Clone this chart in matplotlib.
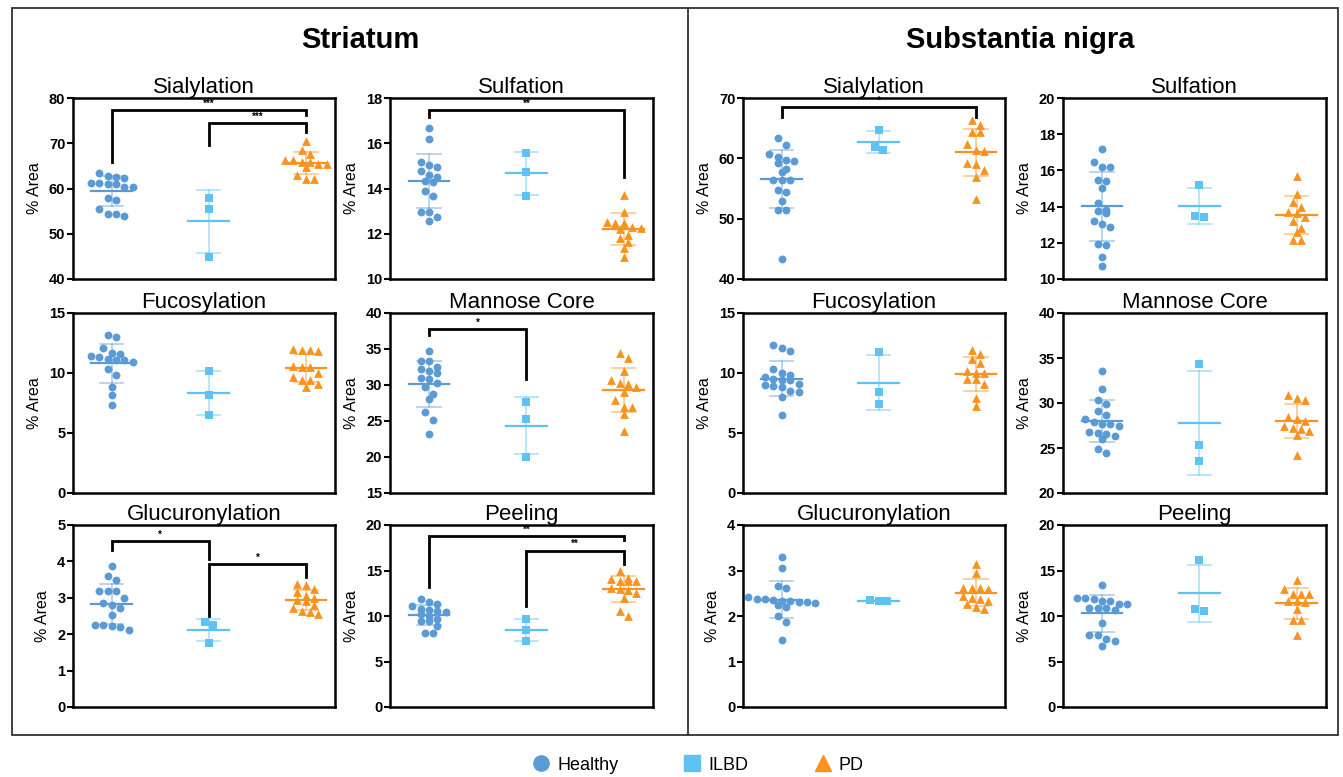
import numpy as np
import matplotlib
matplotlib.use('Agg')
import matplotlib.pyplot as plt
from matplotlib.lines import Line2D
from matplotlib.patches import Rectangle

plt.rcParams['font.family'] = ['Liberation Sans', 'DejaVu Sans']

groups = ['Healthy', 'ILBD', 'PD']
colors = ['#5B9BD5', '#5EC3F2', '#F7931E']
markers = ['o', 's', '^']

# ---- Striatum ----
str_sial_h = [62.7, 62.4, 62.6, 63.4, 60.3, 61.2, 60.4, 61.0, 61.1, 61.3, 57.4, 57.8, 55.4, 54.0, 54.3, 54.3]
str_sial_i = [58.0, 55.5, 44.8]
str_sial_p = [70.5, 68.6, 67.7, 66.4, 66.4, 65.8, 65.5, 65.9, 65.5, 64.8, 62.1, 63.0, 62.1]

str_sulf_h = [16.67, 16.18, 14.97, 15.03, 15.18, 14.50, 14.58, 14.78, 13.91, 14.27, 14.31, 13.68, 12.94, 12.94, 12.76, 12.57]
str_sulf_i = [15.59, 14.75, 13.69]
str_sulf_p = [13.72, 12.98, 12.46, 12.46, 12.54, 12.32, 12.24, 11.65, 11.95, 11.8, 11.39, 10.99, 12.2]

str_fuco_h = [13.2, 13.0, 12.1, 11.6, 11.4, 11.7, 11.1, 11.2, 11.1, 10.9, 11.3, 10.3, 9.8, 8.8, 8.2, 7.3]
str_fuco_i = [10.19, 8.19, 6.53]
str_fuco_p = [11.9, 12.0, 11.8, 11.9, 10.5, 10.5, 10.6, 10.0, 9.4, 8.8, 9.7, 9.1, 9.4]

str_mann_h = [34.7, 33.3, 33.3, 32.2, 32.5, 32.0, 31.7, 31.0, 30.8, 30.3, 29.7, 28.8, 28.1, 26.2, 25.2, 23.2]
str_mann_i = [27.7, 25.3, 20.0]
str_mann_p = [34.5, 33.7, 32.0, 30.7, 30.3, 29.7, 29.0, 27.9, 26.9, 26.9, 26.0, 23.6, 30.2]

str_gluc_h = [3.86, 3.49, 3.61, 3.18, 3.18, 3.18, 2.99, 2.85, 2.72, 2.79, 2.54, 2.21, 2.24, 2.24, 2.22, 2.12]
str_gluc_i = [2.33, 2.26, 1.76]
str_gluc_p = [3.38, 3.34, 3.24, 3.15, 3.05, 3.0, 2.95, 2.9, 2.8, 2.72, 2.62, 2.65, 2.55]

str_peel_h = [11.9, 11.5, 11.3, 11.1, 10.8, 10.7, 10.5, 10.4, 10.2, 10.0, 9.7, 9.4, 9.4, 8.9, 8.1, 8.1]
str_peel_i = [9.69, 8.48, 7.24]
str_peel_p = [14.9, 14.1, 13.9, 13.9, 13.8, 14.2, 13.1, 12.9, 12.5, 12.0, 10.0, 10.5, 13.0]

# ---- Substantia nigra ----
sn_sial_h = [63.3, 62.2, 59.6, 59.7, 60.2, 60.7, 59.2, 58.2, 57.7, 56.4, 56.4, 56.4, 54.5, 54.8, 52.9, 51.5, 51.5, 43.3]
sn_sial_i = [64.75, 61.4, 61.9]
sn_sial_p = [66.35, 65.5, 64.3, 64.3, 62.3, 61.2, 61.3, 59.06, 59.17, 58.07, 56.96, 53.26]

sn_sulf_h = [17.18, 16.45, 16.17, 16.2, 15.47, 15.43, 15.03, 14.2, 13.81, 13.63, 13.76, 13.22, 12.85, 13.04, 11.88, 11.93, 11.23, 10.74]
sn_sulf_i = [15.19, 13.41, 13.5]
sn_sulf_p = [15.71, 14.7, 14.24, 13.96, 13.68, 13.63, 13.41, 13.19, 12.8, 12.6, 12.15, 12.15]

sn_fuco_h = [12.3, 12.1, 11.8, 10.3, 9.8, 9.7, 10.0, 9.4, 9.4, 9.5, 9.1, 9.0, 8.9, 8.8, 8.4, 8.5, 8.0, 6.5]
sn_fuco_i = [11.78, 8.39, 7.43]
sn_fuco_p = [11.89, 11.56, 11.15, 10.87, 10.18, 9.96, 9.96, 9.5, 9.5, 9.08, 7.9, 7.24]

sn_mann_h = [33.6, 31.6, 29.9, 30.3, 29.1, 28.7, 27.7, 27.9, 28.2, 27.7, 27.5, 26.8, 26.3, 26.6, 26.7, 26.0, 24.9, 24.5]
sn_mann_i = [34.33, 25.37, 23.52]
sn_mann_p = [30.9, 30.6, 30.3, 28.4, 28.2, 27.1, 27.2, 27.4, 28.0, 26.9, 26.5, 24.2]

sn_gluc_h = [3.29, 3.06, 2.67, 2.62, 2.32, 2.37, 2.35, 2.3, 2.28, 2.33, 2.25, 2.41, 2.38, 2.3, 2.2, 1.99, 1.86, 1.47]
sn_gluc_i = [2.33, 2.36, 2.33]
sn_gluc_p = [3.15, 2.95, 2.62, 2.62, 2.62, 2.59, 2.33, 2.4, 2.38, 2.43, 2.26, 2.16, 2.19]

sn_peel_h = [13.4, 11.9, 12.0, 12.0, 11.6, 11.3, 11.3, 10.9, 10.9, 10.7, 10.9, 9.2, 7.9, 7.9, 7.5, 7.3, 6.7, 11.6]
sn_peel_i = [16.1, 10.57, 10.79]
sn_peel_p = [14.0, 12.41, 12.41, 12.97, 12.41, 11.6, 11.6, 11.53, 10.79, 9.58, 9.58, 7.92]

# significance brackets: (group1, group2, bar, left leg end, right leg end, label)
str_sial_sig = [(1, 3, 77.3, 65.9, 76.2, '***'), (2, 3, 74.5, 69.7, 72.5, '***')]
str_sulf_sig = [(1, 3, 17.45, 17.16, 14.53, '**')]
str_mann_sig = [(1, 2, 37.8, 37.0, 30.9, '*')]
str_gluc_sig = [(1, 2, 4.55, 4.32, 4.07, '*'), (2, 3, 3.93, 2.51, 3.56, '*')]
str_peel_sig = [(1, 3, 18.76, 13.16, 18.35, '**'), (2, 3, 17.18, 11.08, 15.72, '**')]
sn_sial_sig = [(1, 3, 68.45, 66.8, 66.8, '*')]

W, H = 1343, 777
fig = plt.figure(figsize=(W / 100, H / 100), dpi=100)

# column lefts/rights and row tops/bottoms in pixels
cols = [(73, 335), (390, 653), (743, 1005), (1063, 1326)]
rows = [(98, 279), (313, 493), (525, 707)]

panels = [
    (0, 0, 'Sialylation', [str_sial_h, str_sial_i, str_sial_p], (40, 80), np.arange(40, 81, 10), str_sial_sig),
    (0, 1, 'Sulfation', [str_sulf_h, str_sulf_i, str_sulf_p], (10, 18), np.arange(10, 19, 2), str_sulf_sig),
    (1, 0, 'Fucosylation', [str_fuco_h, str_fuco_i, str_fuco_p], (0, 15), np.arange(0, 16, 5), []),
    (1, 1, 'Mannose Core', [str_mann_h, str_mann_i, str_mann_p], (15, 40), np.arange(15, 41, 5), str_mann_sig),
    (2, 0, 'Glucuronylation', [str_gluc_h, str_gluc_i, str_gluc_p], (0, 5), np.arange(0, 6, 1), str_gluc_sig),
    (2, 1, 'Peeling', [str_peel_h, str_peel_i, str_peel_p], (0, 20), np.arange(0, 21, 5), str_peel_sig),
    (0, 2, 'Sialylation', [sn_sial_h, sn_sial_i, sn_sial_p], (40, 70), np.arange(40, 71, 10), sn_sial_sig),
    (0, 3, 'Sulfation', [sn_sulf_h, sn_sulf_i, sn_sulf_p], (10, 20), np.arange(10, 21, 2), []),
    (1, 2, 'Fucosylation', [sn_fuco_h, sn_fuco_i, sn_fuco_p], (0, 15), np.arange(0, 16, 5), []),
    (1, 3, 'Mannose Core', [sn_mann_h, sn_mann_i, sn_mann_p], (20, 40), np.arange(20, 41, 5), []),
    (2, 2, 'Glucuronylation', [sn_gluc_h, sn_gluc_i, sn_gluc_p], (0, 4), np.arange(0, 5, 1), []),
    (2, 3, 'Peeling', [sn_peel_h, sn_peel_i, sn_peel_p], (0, 20), np.arange(0, 21, 5), []),
]


def row_scatter_x(ax, x0, vals, d_px):
    # GraphPad-like layout: bin points into rows, spread each row sideways
    tr = ax.transData
    ypx = np.array([tr.transform((x0, v))[1] for v in vals])
    px_per_unit = tr.transform((1, 0))[0] - tr.transform((0, 0))[0]
    order = np.argsort(ypx)[::-1]
    offs = np.zeros(len(vals))
    rows_ = []
    for i in order:
        if rows_ and rows_[-1][0] - ypx[i] < d_px * 0.9:
            rows_[-1][1].append(i)
        else:
            rows_.append([ypx[i], [i]])
    for _, idx in rows_:
        n = len(idx)
        for j, i in enumerate(idx):
            offs[i] = (j - (n - 1) / 2) * d_px * 1.05
    return x0 + offs / px_per_unit


for r, c, name, data, ylim, yticks, sigs in panels:
    x0, x1 = cols[c]
    yt, yb = rows[r]
    ax = fig.add_axes([x0 / W, 1 - yb / H, (x1 - x0) / W, (yb - yt) / H])
    ax.set_xlim(0.6, 3.3)
    ax.set_ylim(*ylim)
    ax.set_yticks(yticks)
    ax.set_xticks([])
    for sp in ax.spines.values():
        sp.set_linewidth(1.8)
    ax.tick_params(axis='y', direction='out', length=4, width=1.5, labelsize=10.5, pad=1.5)
    for lab in ax.get_yticklabels():
        lab.set_fontweight('bold')
    ax.set_ylabel('% Area', fontsize=11.5, labelpad=5)
    ax.set_title(name, fontsize=16, pad=3)

    for k, vals in enumerate(data):
        xc = k + 1
        col = colors[k]
        m = np.mean(vals)
        s = np.std(vals, ddof=1)
        ax.plot([xc, xc], [m - s, m + s], color=col, lw=1.2, alpha=0.5, zorder=1)
        ax.plot([xc - 0.12, xc + 0.12], [m + s, m + s], color=col, lw=1.2, alpha=0.5, zorder=1)
        ax.plot([xc - 0.12, xc + 0.12], [m - s, m - s], color=col, lw=1.2, alpha=0.5, zorder=1)
        xs = row_scatter_x(ax, xc, vals, 8.0)
        ax.scatter(xs, vals, marker=markers[k], s=32 if k < 2 else 40, color=col,
                   linewidths=0, zorder=2, clip_on=False)
        ax.plot([xc - 0.21, xc + 0.21], [m, m], color=col, lw=1.6, zorder=3)

    for g1, g2, ybar, yl, yr, lab in sigs:
        ax.plot([g1, g1, g2, g2], [yl, ybar, ybar, yr], color='black', lw=2,
                solid_joinstyle='miter', zorder=4)
        ax.annotate(lab, ((g1 + g2) / 2, ybar), xytext=(0, 1), textcoords='offset points',
                    ha='center', va='bottom', fontsize=7, fontweight='bold')

# outer frame and divider
fig.add_artist(Rectangle((12 / W, 1 - 735 / H), (1338 - 12) / W, (735 - 8) / H,
                         transform=fig.transFigure, fill=False, lw=1.3, ec='#333333'))
fig.add_artist(Line2D([688 / W, 688 / W], [1 - 8 / H, 1 - 735 / H],
                      transform=fig.transFigure, lw=1.3, color='#333333'))

fig.text(360 / W, 1 - 40 / H, 'Striatum', ha='center', va='center', fontsize=21, fontweight='bold')
fig.text(1020 / W, 1 - 40 / H, 'Substantia nigra', ha='center', va='center', fontsize=21, fontweight='bold')

handles = [Line2D([], [], ls='none', marker=markers[k], color=colors[k], markersize=11)
           for k in range(3)]
fig.legend(handles, groups, loc='center', bbox_to_anchor=(697 / W, 1 - 765 / H), ncol=3,
           frameon=False, fontsize=13, handletextpad=0.3, columnspacing=3.5, handlelength=1.2)

fig.savefig('out.png', dpi=100)
